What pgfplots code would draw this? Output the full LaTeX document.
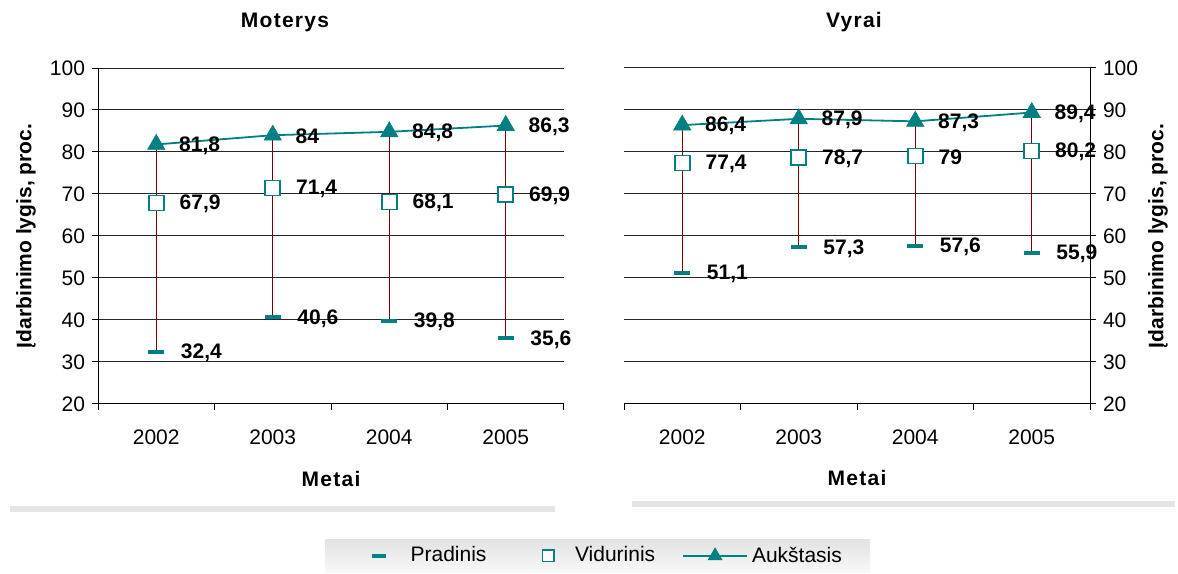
\documentclass[border=0pt]{standalone}
\usepackage{pgfplots}
\pgfplotsset{compat=1.18}
\usepackage{fontspec}
\setmainfont{Liberation Sans}
\newfontfamily\spaced[LetterSpace=6]{Liberation Sans}
\definecolor{tealc}{RGB}{0,128,128}
\definecolor{dropc}{RGB}{128,0,0}

\pgfplotsset{
  panel/.style={
    scale only axis, width=233pt, height=168pt,
    xmin=-0.5, xmax=3.5, ymin=20, ymax=100,
    xtick={-0.5,0.5,1.5,2.5,3.5}, xticklabels={,,,,},
    extra x ticks={0,1,2,3}, extra x tick labels={2002,2003,2004,2005},
    extra x tick style={tick style={draw=none}},
    ytick={20,30,...,100},
    ymajorgrids, grid style={black!85, line width=0.5pt},
    axis x line*=bottom, axis line style={line width=0.5pt},
    tick align=outside, major tick length=3pt,
    tick style={black, line width=0.5pt},
    font=\fontsize{10.5pt}{12pt}\selectfont,
    /pgf/number format/assume math mode=true,
    xticklabel style={yshift=-6.5pt},
    clip=false,
    nodes near coords={\pgfmathprintnumber[use comma,assume math mode=true]{\pgfplotspointmeta}},
    every node near coord/.style={anchor=west, xshift=8pt, yshift=-0.5pt, font=\fontsize{10.5pt}{12pt}\selectfont\bfseries, black},
  },
  lowp/.style={only marks, mark=-, mark size=4pt, tealc, line width=2pt, mark options={line width=2pt},
    legend image post style={mark size=3.5pt}},
  midp/.style={only marks, mark=square*, mark size=3.75pt, mark options={draw=tealc, fill=white, line width=0.8pt},
    legend image post style={mark size=2.9pt}},
  highp/.style={tealc, line width=0.9pt, mark=triangle*, mark size=5pt, mark options={fill=tealc, draw=tealc, line width=0.3pt}},
  dropl/.style={dropc, line width=0.6pt, unbounded coords=jump, forget plot, nodes near coords=, no marks},
  legline/.style={legend image code/.code={\draw[mark repeat=2,mark phase=2,mark size=4pt,##1] plot coordinates {(0pt,0pt)(16pt,0pt)(32pt,0pt)};}},
}

\begin{document}
\begin{tikzpicture}[x=0.5pt,y=0.5pt]
\path (0,0) rectangle (1178,573);
\shade[top color=gray!22, bottom color=gray!5] (325,0) rectangle (870,33);
\fill[gray!20] (10,61) rectangle (555,67);
\fill[gray!20] (632,66) rectangle (1175,72);

% Moterys
\begin{axis}[panel, at={(49pt,84.5pt)}, anchor=south west,
  axis y line*=left,
  legend columns=3,
  legend style={at={(1.096,-0.452)}, anchor=center, draw=none, fill=none,
    font=\fontsize{10.5pt}{12pt}\selectfont,
    /tikz/column 1/.style={column sep=10.5pt},
    /tikz/column 2/.style={column sep=26pt},
    /tikz/column 3/.style={column sep=8.5pt},
    /tikz/column 4/.style={column sep=11.5pt},
    /tikz/column 5/.style={column sep=0pt}},
  legend cell align=left]
\addplot[dropl] coordinates {(0,32.4)(0,81.8)(0,nan)(1,40.6)(1,84)(1,nan)(2,39.8)(2,84.8)(2,nan)(3,35.6)(3,86.3)};
\addplot[lowp] coordinates {(0,32.4)(1,40.6)(2,39.8)(3,35.6)};
\addlegendentry{Pradinis}
\addplot[midp] coordinates {(0,67.9)(1,71.4)(2,68.1)(3,69.9)};
\addlegendentry{Vidurinis}
\addplot[highp, legline] coordinates {(0,81.8)(1,84)(2,84.8)(3,86.3)};
\addlegendentry{Aukštasis}
\end{axis}

% Vyrai
\begin{axis}[panel, at={(312pt,84.5pt)}, anchor=south west,
  axis y line*=right]
\addplot[dropl] coordinates {(0,51.1)(0,86.4)(0,nan)(1,57.3)(1,87.9)(1,nan)(2,57.6)(2,87.3)(2,nan)(3,55.9)(3,89.4)};
\addplot[lowp] coordinates {(0,51.1)(1,57.3)(2,57.6)(3,55.9)};
\addplot[midp] coordinates {(0,77.4)(1,78.7)(2,79)(3,80.2)};
\addplot[highp] coordinates {(0,86.4)(1,87.9)(2,87.3)(3,89.4)};
\end{axis}

\begin{scope}[every node/.style={font=\fontsize{10.5pt}{12pt}\selectfont\bfseries}]
\node[font=\fontsize{10.5pt}{12pt}\selectfont\bfseries\spaced] at (285,551) {Moterys};
\node[font=\fontsize{10.5pt}{12pt}\selectfont\bfseries\spaced] at (854,551) {Vyrai};
\node[font=\fontsize{10.5pt}{12pt}\selectfont\bfseries\spaced] at (331,94) {Metai};
\node[font=\fontsize{10.5pt}{12pt}\selectfont\bfseries\spaced] at (857,95) {Metai};
\node[rotate=90] at (26,337) {Įdarbinimo lygis, proc.};
\node[rotate=90] at (1158,337) {Įdarbinimo lygis, proc.};
\end{scope}
\end{tikzpicture}
\end{document}
